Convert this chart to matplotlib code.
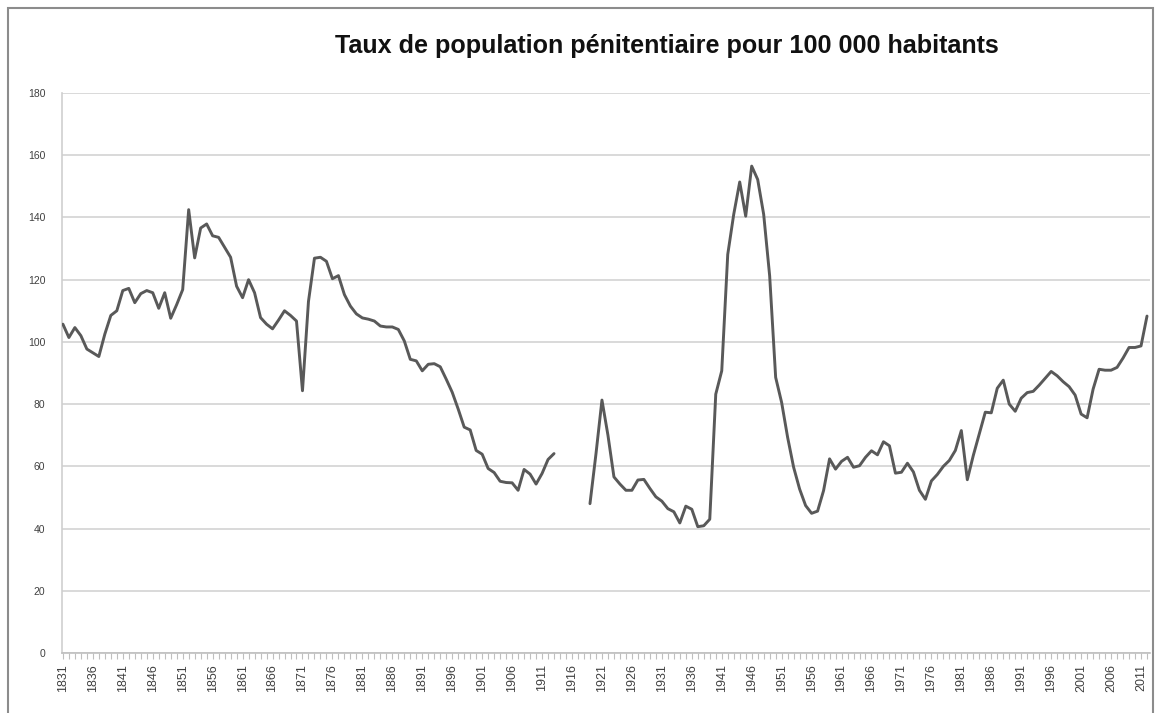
import numpy as np
import matplotlib
matplotlib.use("Agg")
import matplotlib.pyplot as plt
from matplotlib.patches import Rectangle

title = "Taux de population pénitentiaire pour 100 000 habitants"

first_year = 1831
last_year = 2012
years = list(range(first_year, last_year + 1))

# Prison population per 100 000 inhabitants; None marks the missing 1914-1918 years
rate = [
    105.7, 101.4, 104.6, 102.0, 97.7, 96.5, 95.3, 102.5, 108.5, 110.0,   # 1831-1840
    116.5, 117.2, 112.6, 115.5, 116.5, 115.8, 110.8, 115.8, 107.6, 112.0,  # 1841-1850
    116.8, 142.5, 127.0, 136.6, 137.9, 134.1, 133.6, 130.4, 127.2, 117.9,  # 1851-1860
    114.2, 120.0, 115.8, 107.8, 105.7, 104.2, 107.0, 110.0, 108.5, 106.7,  # 1861-1870
    84.3, 113.0, 126.9, 127.2, 125.9, 120.3, 121.3, 115.2, 111.5, 109.0,   # 1871-1880
    107.7, 107.3, 106.7, 105.1, 104.8, 104.8, 104.0, 100.3, 94.4, 93.9,    # 1881-1890
    90.7, 92.8, 93.0, 92.0, 88.0, 83.8, 78.4, 72.6, 71.7, 65.1,            # 1891-1900
    63.9, 59.3, 58.0, 55.2, 54.8, 54.7, 52.3, 59.0, 57.5, 54.3,            # 1901-1910
    57.7, 62.2, 64.1, None, None, None, None, None, 48.0, 64.0,            # 1911-1920
    81.3, 70.0, 56.6, 54.3, 52.3, 52.3, 55.6, 55.8, 52.9, 50.2,            # 1921-1930
    48.8, 46.4, 45.4, 41.8, 47.2, 46.2, 40.6, 40.9, 43.0, 83.2,            # 1931-1940
    90.7, 128.1, 141.0, 151.4, 140.4, 156.5, 152.2, 141.0, 121.2, 88.6,    # 1941-1950
    80.5, 69.3, 59.7, 52.7, 47.4, 44.9, 45.6, 52.2, 62.4, 59.1,            # 1951-1960
    61.6, 62.9, 59.7, 60.2, 62.9, 65.0, 63.7, 67.9, 66.6, 57.8,            # 1961-1970
    58.1, 61.0, 58.2, 52.3, 49.4, 55.3, 57.4, 60.0, 61.9, 65.1,            # 1971-1980
    71.5, 55.7, 63.5, 70.4, 77.4, 77.2, 85.1, 87.7, 80.0, 77.7,            # 1981-1990
    81.9, 83.7, 84.1, 86.1, 88.3, 90.5, 89.1, 87.2, 85.6, 82.9,            # 1991-2000
    76.8, 75.6, 84.8, 91.2, 90.9, 90.9, 91.8, 94.8, 98.2, 98.2,            # 2001-2010
    98.7, 108.3,                                                           # 2011-2012
]

y_ticks = list(range(0, 181, 20))
label_years = list(range(1831, 2012, 5))

line_color = "#595959"
grid_color = "#d9d9d9"
text_color = "#404040"

plt.rcParams["font.family"] = ["Liberation Sans", "DejaVu Sans"]

fig = plt.figure(figsize=(11.6, 7.13), dpi=100)
ax = fig.add_axes([62 / 1160, 1 - 653 / 713, (1150 - 62) / 1160, (653 - 93) / 713])

values = np.array([np.nan if v is None else v for v in rate], dtype=float)
ax.plot(years, values, color=line_color, linewidth=2.1, solid_joinstyle="round",
        solid_capstyle="round", zorder=3)

ax.set_ylim(0, 180)
ax.set_xlim(1830.85, 2012.5)
ax.set_yticks(y_ticks)
ax.set_yticklabels([str(t) for t in y_ticks], fontsize=7.5, color=text_color)
ax.yaxis.grid(True, color=grid_color, linewidth=1.4)
ax.set_axisbelow(True)
ax.tick_params(axis="y", length=0, pad=12)

ax.set_xticks(label_years)
ax.set_xticklabels([str(y) for y in label_years], rotation=90, fontsize=9,
                   color=text_color)
ax.set_xticks(years, minor=True)
ax.tick_params(axis="x", which="both", length=4, width=0.8, color="#bfbfbf",
               direction="out", pad=4)

for side in ("top", "right"):
    ax.spines[side].set_visible(False)
ax.spines["left"].set_color("#cfcfcf")
ax.spines["left"].set_linewidth(1.2)
ax.spines["bottom"].set_color("#bfbfbf")
ax.spines["bottom"].set_linewidth(1.2)

fig.text(667 / 1160, 1 - 46 / 713, title, ha="center", va="center",
         fontsize=18.1, fontweight="bold", color="#111111")

# Chart frame (its lower edge runs past the bottom of the image)
frame = Rectangle((8 / 1160, -0.05), (1153 - 8) / 1160, 1.05 - 8 / 713,
                  transform=fig.transFigure, fill=False, edgecolor="#8c8c8c",
                  linewidth=1.5, clip_on=False)
fig.patches.append(frame)

fig.savefig("out.png", dpi=100, facecolor="white")
